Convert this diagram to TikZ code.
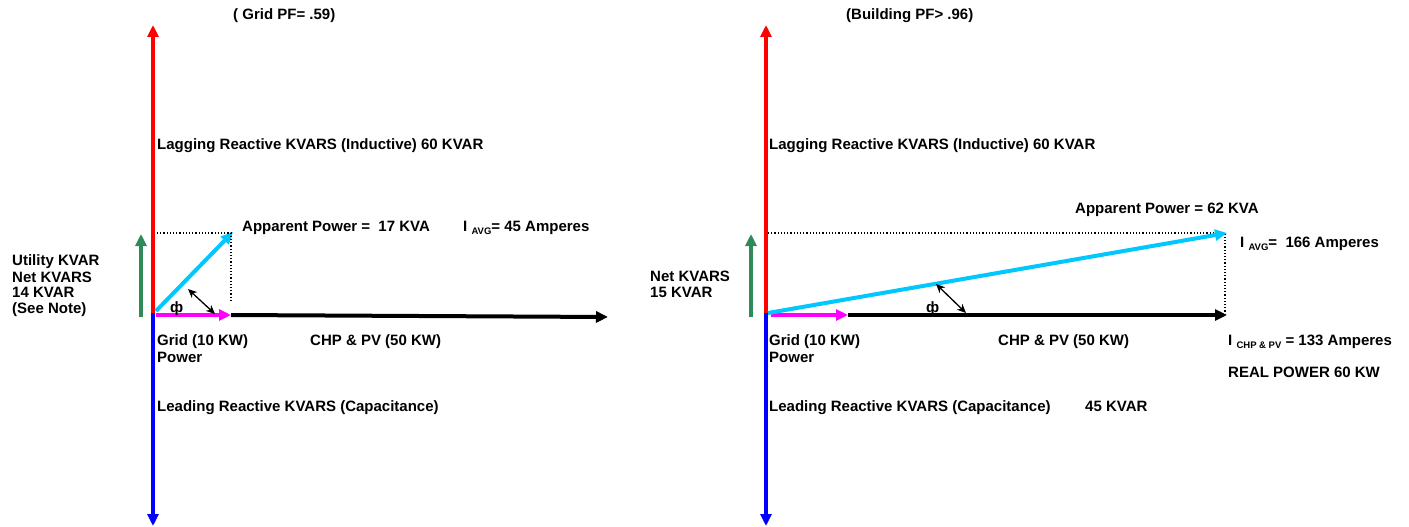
\documentclass[tikz,border=0pt]{standalone}
\usepackage{fontspec}
\setmainfont{Liberation Sans}
\usetikzlibrary{arrows.meta}
\definecolor{vred}{RGB}{255,0,0}
\definecolor{vblue}{RGB}{0,0,255}
\definecolor{vmag}{RGB}{255,0,255}
\definecolor{vcyan}{RGB}{0,200,255}
\definecolor{vgreen}{RGB}{46,139,87}
\newcommand{\sbs}[1]{\raisebox{-3pt}{\fontsize{9.5}{9.5}\selectfont #1}}
\tikzset{
  lbl/.style={anchor=base west, inner sep=0pt, font=\fontsize{15}{17}\selectfont\bfseries},
  vec/.style={line width=4pt, -{Triangle[length=12pt,width=11pt]}},
  thinvec/.style={line width=1.3pt, {Stealth[length=9pt,width=8pt]}-{Stealth[length=9pt,width=8pt]}},
  guide/.style={line width=1.2pt, dotted}
}
\begin{document}
\begin{tikzpicture}[x=1pt,y=-1pt]
\useasboundingbox (0,0) rectangle (1409,527);
% ---------- left diagram ----------
\coordinate (Lo) at (153,313);
\coordinate (Ltop) at (153,25);
\coordinate (Lbot) at (153,526);
\coordinate (Lgs) at (141,317);
\coordinate (Lge) at (141,234);
\coordinate (Lm0) at (156,315);
\coordinate (Lm1) at (231,315);
\coordinate (Lk1) at (608,317);
\coordinate (Lc0) at (156,311);
\coordinate (Lc1) at (233,232);
\coordinate (Ld0) at (157,233);
\coordinate (Ld1) at (231,233);
\coordinate (Ld2) at (231,300);
\coordinate (La0) at (188,289);
\coordinate (La1) at (215,314);
\draw[vec, vred] (Lo) -- (Ltop);
\draw[vec, vblue] (Lo) -- (Lbot);
\draw[vec, vgreen] (Lgs) -- (Lge);
\draw[vec, black] (Lm1) -- (Lk1);
\draw[vec, vmag] (Lm0) -- (Lm1);
\draw[vec, vcyan] (Lc0) -- (Lc1);
\draw[guide] (Ld0) -- (Ld1) -- (Ld2);
\draw[thinvec] (La0) -- (La1);
\node[lbl] (Lphi) at (170,312) {ф};
\node[lbl] (Ltitle) at (233,20) {( Grid PF= .59)};
\node[lbl] (Llag) at (157,149) {Lagging Reactive KVARS (Inductive) 60 KVAR};
\node[lbl] (Lapp) at (242,231) {Apparent Power =\ \ 17 KVA};
\node[lbl] (Liavg) at (463,231) {I \sbs{AVG}= 45 Amperes};
\node[lbl] (Lutil1) at (12,265) {Utility KVAR};
\node[lbl] (Lutil2) at (12,282) {Net KVARS};
\node[lbl] (Lutil3) at (12,297) {14 KVAR};
\node[lbl] (Lutil4) at (12,313) {(See Note)};
\node[lbl] (Lgrid) at (157,345) {Grid (10 KW)};
\node[lbl] (Lpow) at (157,362) {Power};
\node[lbl] (Lchp) at (310,345) {CHP \& PV (50 KW)};
\node[lbl] (Llead) at (157,411) {Leading Reactive KVARS (Capacitance)};
% ---------- right diagram ----------
\coordinate (Ro) at (766,313);
\coordinate (Rtop) at (766,25);
\coordinate (Rbot) at (766,526);
\coordinate (Rgs) at (751,317);
\coordinate (Rge) at (751,234);
\coordinate (Rm0) at (771,315);
\coordinate (Rm1) at (848,315);
\coordinate (Rk1) at (1227,315);
\coordinate (Rc0) at (768,313);
\coordinate (Rc1) at (1227,233);
\coordinate (Rd0) at (768,233);
\coordinate (Rd1) at (1225,233);
\coordinate (Rd2) at (1225,315);
\coordinate (Ra0) at (936,284);
\coordinate (Ra1) at (966,313);
\draw[vec, vred] (Ro) -- (Rtop);
\draw[vec, vblue] (Ro) -- (Rbot);
\draw[vec, vgreen] (Rgs) -- (Rge);
\draw[guide] (Rd0) -- (Rd1) -- (Rd2);
\draw[vec, black] (Rm1) -- (Rk1);
\draw[vec, vmag] (Rm0) -- (Rm1);
\draw[vec, vcyan] (Rc0) -- (Rc1);
\draw[thinvec] (Ra0) -- (Ra1);
\node[lbl] (Rphi) at (926,312) {ф};
\node[lbl] (Rtitle) at (846,20) {(Building PF> .96)};
\node[lbl] (Rlag) at (769,149) {Lagging Reactive KVARS (Inductive) 60 KVAR};
\node[lbl] (Rapp) at (1075,213) {Apparent Power = 62 KVA};
\node[lbl] (Riavg) at (1240,247) {I \sbs{AVG}=\ \ 166 Amperes};
\node[lbl] (Rnet1) at (650,281) {Net KVARS};
\node[lbl] (Rnet2) at (650,297) {15 KVAR};
\node[lbl] (Rgrid) at (769,345) {Grid (10 KW)};
\node[lbl] (Rpow) at (769,362) {Power};
\node[lbl] (Rchp) at (998,345) {CHP \& PV (50 KW)};
\node[lbl] (Richp) at (1228,345) {I \sbs{CHP \& PV} = 133 Amperes};
\node[lbl] (Rreal) at (1228,377) {REAL POWER 60 KW};
\node[lbl] (Rlead) at (769,411) {Leading Reactive KVARS (Capacitance)};
\node[lbl] (Rlead2) at (1085,411) {45 KVAR};
\end{tikzpicture}
\end{document}
